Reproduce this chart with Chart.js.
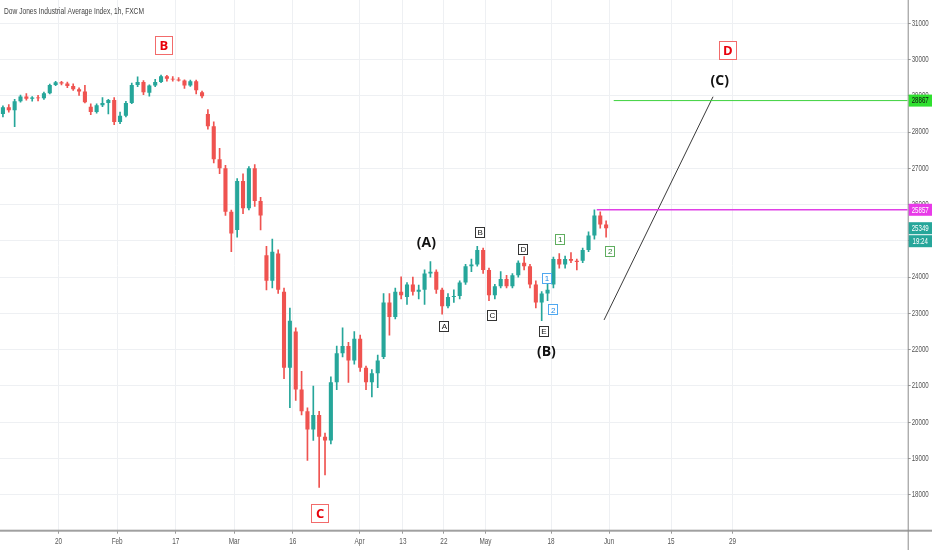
<!DOCTYPE html>
<html lang="en">
<head>
  <meta charset="UTF-8" />
  <title>Dow Jones Industrial Average Index, 1h, FXCM</title>
  <script src="https://cdn.jsdelivr.net/npm/chart.js"></script>
  <style>
    html, body { margin: 0; padding: 0; background: #fff; }
    #wrap { width: 932px; height: 550px; }
  </style>
</head>
<body>
<div id="wrap"><canvas id="dji" width="932" height="550"></canvas></div>
<script>
  // trading days, Jan 6 .. May 29 (one candle per session)
  const days = [
    'Jan 6','Jan 7','Jan 8','Jan 9','Jan 10','Jan 13','Jan 14','Jan 15','Jan 16','Jan 17',
    'Jan 20','Jan 21','Jan 22','Jan 23','Jan 24','Jan 27','Jan 28','Jan 29','Jan 30','Jan 31',
    'Feb 3','Feb 4','Feb 5','Feb 6','Feb 7','Feb 10','Feb 11','Feb 12','Feb 13','Feb 14',
    'Feb 17','Feb 18','Feb 19','Feb 20','Feb 21','Feb 24','Feb 25','Feb 26','Feb 27','Feb 28',
    'Mar 2','Mar 3','Mar 4','Mar 5','Mar 6','Mar 9','Mar 10','Mar 11','Mar 12','Mar 13',
    'Mar 16','Mar 17','Mar 18','Mar 19','Mar 20','Mar 23','Mar 24','Mar 25','Mar 26','Mar 27',
    'Mar 30','Mar 31','Apr 1','Apr 2','Apr 3','Apr 6','Apr 7','Apr 8','Apr 9',
    'Apr 13','Apr 14','Apr 15','Apr 16','Apr 17','Apr 20','Apr 21','Apr 22','Apr 23','Apr 24',
    'Apr 27','Apr 28','Apr 29','Apr 30','May 1','May 4','May 5','May 6','May 7','May 8',
    'May 11','May 12','May 13','May 14','May 15','May 18','May 19','May 20','May 21','May 22',
    'May 25','May 26','May 27','May 28','May 29'
  ];
  const opens = [
    28500,28680,28600,28850,28980,28920,28950,28930,29070,29300,
    29370,29340,29270,29180,29120,28700,28550,28740,28800,28880,
    28280,28450,28800,29300,29380,29080,29280,29380,29540,29470,
    29450,29420,29280,29400,29100,28500,28160,27250,27000,25800,
    25300,26650,25900,27000,26100,24600,23900,24650,23600,21500,
    22500,20900,20300,19800,20200,19600,19500,21100,21900,22100,
    21700,22300,21500,21100,21350,21800,23300,22900,23600,
    23450,23800,23600,23650,24100,24150,23650,23200,23450,23480,
    23850,24300,24350,24750,24200,23500,23750,23950,23750,24050,
    24400,24300,23800,23300,23550,23800,24500,24350,24500,24450,
    24450,24750,25150,25700,25450
  ];
  const highs = [
    28720,28760,28900,29020,29060,28980,29010,29100,29320,29400,
    29400,29380,29330,29220,29290,28780,28780,28950,28900,28950,
    28550,28850,29350,29520,29420,29300,29450,29570,29560,29530,
    29500,29440,29430,29430,29130,28620,28280,27550,27080,25850,
    26720,26850,27050,27100,26200,24850,25050,24750,23700,23150,
    22600,21400,20400,21000,20300,19700,21250,22100,22600,22200,
    22500,22400,21550,21450,21850,23550,23550,23700,24010,
    23850,24000,23780,24200,24430,24200,23700,23550,23650,23900,
    24350,24500,24850,24800,24250,23800,24150,24050,24100,24450,
    24570,24350,23900,23600,23800,24550,24650,24580,24680,24500,
    24800,25250,25857,25800,25550
  ];
  const lows = [
    28420,28550,28150,28820,28880,28850,28860,28900,29050,29280,
    29300,29220,29150,29010,28800,28480,28520,28700,28500,28200,
    28230,28420,28780,29250,29030,28990,29250,29360,29400,29400,
    29400,29200,29260,29050,28940,28080,27150,26850,25700,24700,
    25100,25750,25850,25950,25300,23650,23700,23550,21200,20400,
    20600,20200,18950,19500,18200,18550,19400,20900,21800,21100,
    21600,21400,20900,20700,20950,21750,22400,22850,23400,
    23250,23500,23400,23250,24000,23550,22980,23150,23300,23400,
    23800,24150,24300,24100,23350,23400,23700,23700,23700,24000,
    24200,23700,23150,22800,23350,23700,24250,24250,24400,24200,
    24400,24700,25050,25350,25100
  ];
  const closes = [
    28680,28600,28850,28980,28920,28950,28930,29070,29300,29370,
    29340,29270,29180,29120,28820,28550,28740,28800,28880,28280,
    28450,28800,29300,29380,29100,29280,29380,29540,29470,29450,
    29420,29280,29400,29150,28990,28160,27250,27000,25800,25200,
    26650,25900,27000,26100,25700,23900,24700,23650,21500,22800,
    20900,20300,19800,20200,19600,19500,21100,21900,22100,21700,
    22300,21500,21100,21350,21700,23300,22900,23600,23500,
    23800,23600,23650,24100,24150,23650,23200,23450,23480,23850,
    24300,24350,24750,24200,23500,23750,23950,23750,24050,24400,
    24300,23800,23300,23550,23650,24500,24350,24500,24450,24420,
    24750,25150,25700,25450,25349
  ];

  // axis labels (x position counted in sessions from Jan 6)
  const xTickAt = [10, 20, 30, 40, 50, 61.4, 68.8, 75.8, 82.9, 94.1, 104, 114.6, 125.1];
  const xTickLabels = ['20', 'Feb', '17', 'Mar', '16', 'Apr', '13', '22', 'May', '18', 'Jun', '15', '29'];
  const yTicks = [18000, 19000, 20000, 21000, 22000, 23000, 24000, 25000, 26000, 27000, 28000, 29000, 30000, 31000];

  // drawn levels and projection
  const targetLevel = 28867;
  const targetFrom = 104.8;
  const highLevel = 25857;
  const highFrom = 101.9;
  const lastPrice = 25349;
  const countdown = '19:24';
  const projAt = [103.15, 121.76];
  const projPrice = [22820, 28974];

  // wave counts
  const majorText = ['B', 'C', 'D'];
  const majorAt = [27.9, 54.6, 124.2];
  const majorPrice = [30394, 17503, 30248];
  const cycleText = ['(A)', '(B)', '(C)'];
  const cycleAt = [72.8, 93.3, 122.9];
  const cyclePrice = [24935, 21948, 29416];
  const minorText = ['A', 'B', 'C', 'D', 'E'];
  const minorAt = [75.8, 81.9, 84.0, 89.3, 92.8];
  const minorPrice = [22648, 25246, 22959, 24786, 22510];
  const greenText = ['1', '2'];
  const greenAt = [95.6, 104.1];
  const greenPrice = [25053, 24723];
  const blueText = ['1', '2'];
  const blueAt = [93.3, 94.4];
  const bluePrice = [23970, 23111];

  const UP = '#26a69a';
  const DOWN = '#ef5350';
  const FONT = "'Liberation Sans', Arial, sans-serif";

  const candleColors = days.map((d, i) => closes[i] >= opens[i] ? UP : DOWN);
  const bodies = days.map((d, i) => ({ x: i + 0.5, y: [opens[i], closes[i]] }));
  const wicks = days.map((d, i) => ({ x: i + 0.5, y: [lows[i], highs[i]] }));

  function narrowText(ctx, text, x, y, align, squeeze) {
    ctx.save();
    ctx.translate(x, y);
    ctx.scale(squeeze, 1);
    ctx.textAlign = align;
    ctx.fillText(text, 0, 0);
    ctx.restore();
  }

  function boxLabel(ctx, text, x, y, w, h, border, color, font) {
    ctx.fillStyle = '#fff';
    ctx.fillRect(x - w / 2, y - h / 2, w, h);
    ctx.strokeStyle = border;
    ctx.lineWidth = 1;
    ctx.strokeRect(Math.round(x - w / 2) + 0.5, Math.round(y - h / 2) + 0.5, w, h);
    ctx.fillStyle = color;
    ctx.font = font;
    ctx.textAlign = 'center';
    ctx.textBaseline = 'middle';
    ctx.fillText(text, x + 0.5, y + 1);
  }

  const chartDecor = {
    id: 'chartDecor',
    afterDatasetsDraw(chart) {
      const ctx = chart.ctx;
      const xs = chart.scales.x, ys = chart.scales.y;
      ctx.save();
      majorText.forEach((t, i) => {
        boxLabel(ctx, t, xs.getPixelForValue(majorAt[i]), ys.getPixelForValue(majorPrice[i]),
          17, 18, '#f26b6b', '#e8000b', "bold 13px 'Open Sans', sans-serif");
      });
      minorText.forEach((t, i) => {
        boxLabel(ctx, t, xs.getPixelForValue(minorAt[i]), ys.getPixelForValue(minorPrice[i]),
          9, 10, '#333', '#111', '8px ' + FONT);
      });
      greenText.forEach((t, i) => {
        boxLabel(ctx, t, xs.getPixelForValue(greenAt[i]), ys.getPixelForValue(greenPrice[i]),
          9, 10, '#5fae5f', '#2e7d32', '8px ' + FONT);
      });
      blueText.forEach((t, i) => {
        boxLabel(ctx, t, xs.getPixelForValue(blueAt[i]), ys.getPixelForValue(bluePrice[i]),
          9, 10, '#4fa8f0', '#1e88e5', '8px ' + FONT);
      });
      ctx.fillStyle = '#111';
      ctx.font = "bold 14px 'Open Sans', sans-serif";
      ctx.textAlign = 'center';
      ctx.textBaseline = 'middle';
      cycleText.forEach((t, i) => {
        ctx.fillText(t, xs.getPixelForValue(cycleAt[i]), ys.getPixelForValue(cyclePrice[i]));
      });
      ctx.restore();
    },
    afterDraw(chart) {
      const ctx = chart.ctx;
      const xs = chart.scales.x, ys = chart.scales.y;
      const area = chart.chartArea;
      ctx.save();
      // axis lines
      ctx.fillStyle = '#a0a0a0';
      ctx.fillRect(0, area.bottom - 1, chart.width, 2);
      ctx.fillStyle = '#8c8c8c';
      ctx.fillRect(area.right, 0, 1, chart.height);

      ctx.font = '8.5px ' + FONT;
      ctx.textBaseline = 'middle';
      ctx.fillStyle = '#555';
      xTickLabels.forEach((t, i) => {
        narrowText(ctx, t, xs.getPixelForValue(xTickAt[i]), area.bottom + 11, 'center', 0.75);
      });
      yTicks.forEach(v => {
        narrowText(ctx, String(v), area.right + 4, ys.getPixelForValue(v), 'left', 0.72);
      });

      // price tags
      const tags = [
        { y: ys.getPixelForValue(targetLevel), text: String(targetLevel), bg: '#2fe02f', fg: '#111' },
        { y: ys.getPixelForValue(highLevel), text: String(highLevel), bg: '#e83ae8', fg: '#fff' },
        { y: ys.getPixelForValue(lastPrice), text: String(lastPrice), bg: '#26a69a', fg: '#fff' },
        { y: ys.getPixelForValue(lastPrice) + 13, text: countdown, bg: '#26a69a', fg: '#fff' }
      ];
      tags.forEach(t => {
        ctx.fillStyle = t.bg;
        ctx.fillRect(area.right + 1, t.y - 6, chart.width - area.right - 1, 12);
        ctx.fillStyle = t.fg;
        narrowText(ctx, t.text, area.right + 12.5, t.y + 0.5, 'center', 0.72);
      });

      // title
      ctx.fillStyle = '#444';
      ctx.font = '9.5px ' + FONT;
      narrowText(ctx, 'Dow Jones Industrial Average Index, 1h, FXCM', 4, 11, 'left', 0.7);
      ctx.restore();
    }
  };

  const ctx = document.getElementById('dji').getContext('2d');
  new Chart(ctx, {
    type: 'bar',
    data: {
      datasets: [
        {
          type: 'line',
          data: [{ x: targetFrom, y: targetLevel }, { x: 155, y: targetLevel }],
          borderColor: '#3dd23d',
          borderWidth: 1,
          pointRadius: 0,
          order: 0
        },
        {
          type: 'line',
          data: [{ x: highFrom, y: highLevel }, { x: 155, y: highLevel }],
          borderColor: '#e040e6',
          borderWidth: 1.5,
          pointRadius: 0,
          order: 0
        },
        {
          type: 'line',
          data: [{ x: projAt[0], y: projPrice[0] }, { x: projAt[1], y: projPrice[1] }],
          borderColor: '#3a3a3a',
          borderWidth: 1,
          pointRadius: 0,
          order: 0
        },
        {
          data: bodies,
          backgroundColor: candleColors,
          barPercentage: 0.7,
          categoryPercentage: 1,
          grouped: false,
          order: 1
        },
        {
          data: wicks,
          backgroundColor: candleColors,
          barThickness: 1,
          grouped: false,
          order: 2
        }
      ]
    },
    options: {
      responsive: false,
      animation: false,
      layout: { padding: 0 },
      plugins: {
        legend: { display: false },
        tooltip: { enabled: false }
      },
      scales: {
        x: {
          type: 'linear',
          min: 0,
          max: 155,
          offset: false,
          border: { display: false },
          grid: { color: '#eef0f3', tickLength: 3, tickColor: '#999', offset: false },
          ticks: { display: false },
          afterBuildTicks: s => { s.ticks = xTickAt.map(v => ({ value: v })); },
          afterFit: s => { s.height = 19.3; }
        },
        y: {
          position: 'right',
          min: 17010,
          max: 31640,
          border: { display: false },
          grid: { color: '#eef0f3', tickLength: 3, tickColor: '#999' },
          ticks: { display: false },
          afterBuildTicks: s => { s.ticks = yTicks.map(v => ({ value: v })); },
          afterFit: s => { s.width = 24.3; }
        }
      }
    },
    plugins: [chartDecor]
  });
</script>
</body>
</html>
